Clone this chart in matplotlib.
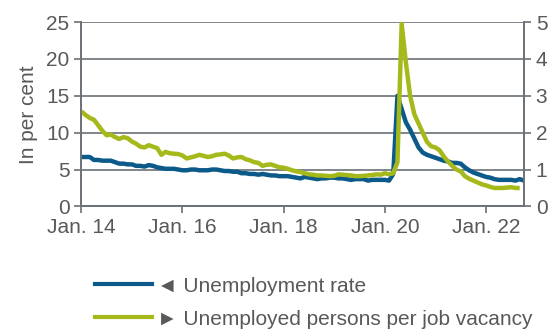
import numpy as np
import matplotlib
matplotlib.use("Agg")
import matplotlib.pyplot as plt
from matplotlib.lines import Line2D

plt.rcParams['font.family'] = ['Liberation Sans', 'DejaVu Sans']

# monthly, Jan 2014 = 0
unemployment_rate = [
    6.7, 6.7, 6.7, 6.3, 6.3, 6.2, 6.2, 6.2, 6.0, 5.8, 5.8, 5.7,   # 2014
    5.7, 5.5, 5.5, 5.4, 5.6, 5.5, 5.3, 5.2, 5.1, 5.1, 5.1, 5.0,   # 2015
    4.9, 4.9, 5.0, 5.0, 4.9, 4.9, 4.9, 5.0, 5.0, 4.9, 4.8, 4.8,   # 2016
    4.7, 4.7, 4.5, 4.5, 4.4, 4.4, 4.3, 4.4, 4.3, 4.2, 4.2, 4.1,   # 2017
    4.1, 4.1, 4.0, 3.9, 3.8, 4.0, 3.9, 3.8, 3.7, 3.8, 3.8, 3.9,   # 2018
    3.9, 3.8, 3.8, 3.7, 3.6, 3.7, 3.7, 3.7, 3.5, 3.6, 3.6, 3.6,   # 2019
    3.6, 3.5, 4.4, 15.0, 13.2, 11.4, 10.4, 9.2, 8.0, 7.3, 7.0, 6.8,  # 2020
    6.6, 6.4, 6.2, 6.1, 5.9, 5.9, 5.8, 5.3, 4.9, 4.6, 4.4, 4.2,   # 2021
    4.0, 3.9, 3.7, 3.6, 3.6, 3.6, 3.6, 3.5, 3.7, 3.5,             # 2022
]

unemployed_per_vacancy = [
    2.58, 2.48, 2.40, 2.35, 2.20, 2.05, 1.93, 1.95, 1.88, 1.83, 1.88, 1.85,
    1.76, 1.70, 1.62, 1.60, 1.66, 1.62, 1.58, 1.40, 1.48, 1.44, 1.43, 1.42,
    1.38, 1.30, 1.33, 1.36, 1.40, 1.37, 1.34, 1.36, 1.40, 1.41, 1.43, 1.38,
    1.30, 1.33, 1.34, 1.28, 1.25, 1.20, 1.18, 1.10, 1.13, 1.14, 1.10, 1.06,
    1.05, 1.02, 0.98, 0.95, 0.93, 0.90, 0.87, 0.86, 0.84, 0.84, 0.83, 0.82,
    0.83, 0.87, 0.86, 0.85, 0.84, 0.82, 0.82, 0.83, 0.84, 0.85, 0.87, 0.86,
    0.90, 0.87, 0.90, 1.20, 4.95, 3.90, 3.00, 2.50, 2.25, 2.00, 1.75, 1.63,
    1.60, 1.52, 1.35, 1.22, 1.10, 1.00, 0.95, 0.82, 0.75, 0.70, 0.65, 0.60,
    0.57, 0.53, 0.50, 0.50, 0.50, 0.51, 0.52, 0.50, 0.50,
]

tick_pos = [0, 24, 48, 72, 96]
tick_labels = ["Jan. 14", "Jan. 16", "Jan. 18", "Jan. 20", "Jan. 22"]

blue = "#0b5a8a"
green = "#a6b91a"
grey = "#6b7177"
txt = "#595959"

fig = plt.figure(figsize=(5.55, 3.34), dpi=100)
ax = fig.add_axes([0.1465, 0.382, 0.7975, 0.552])
ax2 = ax.twinx()

ax.plot(np.arange(len(unemployment_rate)), unemployment_rate, color=blue, lw=3.2,
        solid_capstyle="butt", clip_on=False)
ax2.plot(np.arange(len(unemployed_per_vacancy)), unemployed_per_vacancy, color=green,
         lw=3.2, solid_capstyle="butt", clip_on=False)

ax.set_xlim(0, 105)
ax.set_ylim(0, 25)
ax2.set_ylim(0, 5)
ax.set_yticks(range(0, 26, 5))
ax2.set_yticks(range(0, 6))
ax.set_xticks(tick_pos)
ax.set_xticklabels(tick_labels)

ax.grid(axis="y", color=grey, lw=1.2)
ax.set_axisbelow(True)
for a in (ax, ax2):
    a.spines["top"].set_visible(False)
    for s in ("left", "right", "bottom"):
        a.spines[s].set_color(grey)
        a.spines[s].set_linewidth(1.2)
    a.tick_params(colors=grey, labelcolor=txt, labelsize=15, width=1.2, length=5)

ax.tick_params(axis="x", pad=3)
ax.set_ylabel("In per cent", fontsize=15, color=txt, labelpad=6)

handles = [Line2D([], [], color=blue, lw=3.0), Line2D([], [], color=green, lw=3.0)]
labels = ["\u25C4 Unemployment rate", "\u25BA Unemployed persons per job vacancy"]
fig.legend(handles, labels, loc="upper left", bbox_to_anchor=(0.171, 0.172),
           frameon=False, fontsize=15, labelcolor=txt, handlelength=2.75,
           handletextpad=0.25, labelspacing=0.68, borderaxespad=0, borderpad=0)

fig.savefig("out.png", dpi=100)
